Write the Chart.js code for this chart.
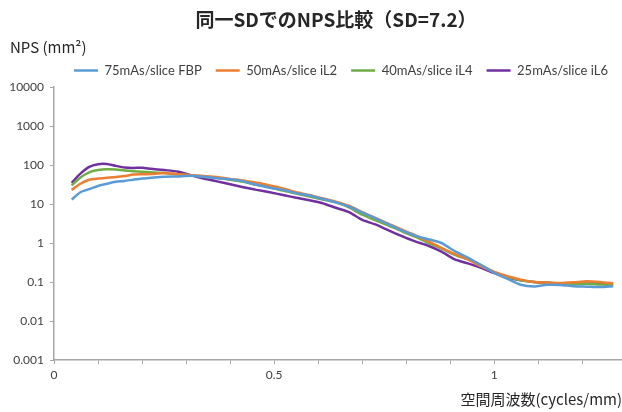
<!DOCTYPE html>
<html>
<head>
<meta charset="utf-8">
<script src="https://cdn.jsdelivr.net/npm/chart.js@4"></script>
<style>
  html, body { margin: 0; padding: 0; background: #fff; }
  #wrap { width: 622px; height: 412px; position: relative; }
</style>
</head>
<body>
<div id="wrap"><canvas id="myChart"></canvas></div>
<script>

    // spatial frequency (cycles/mm)
    const freq = [0.04, 0.06, 0.08, 0.10, 0.12, 0.14, 0.16, 0.18, 0.20, 0.22,
        0.25, 0.28, 0.31, 0.34, 0.37, 0.40, 0.43, 0.46, 0.49, 0.52,
        0.55, 0.58, 0.61, 0.64, 0.67, 0.70, 0.73, 0.76, 0.79, 0.82,
        0.85, 0.88, 0.91, 0.94, 0.97, 1.00, 1.03, 1.06, 1.09, 1.12,
        1.15, 1.18, 1.21, 1.24, 1.27];

    const fbp75 = [13, 20, 24, 29, 33, 37, 39, 42, 45, 47,
        50, 51, 53, 50, 46, 43, 38, 31, 26, 23,
        19, 16.5, 13.5, 11, 8.5, 6.0, 4.3, 3.0, 2.1, 1.55,
        1.25, 1.0, 0.62, 0.42, 0.27, 0.17, 0.12, 0.085, 0.077, 0.085,
        0.084, 0.078, 0.076, 0.074, 0.078];

    const il2_50 = [23, 33, 42, 45, 47, 49, 52, 57, 58, 59,
        62, 58, 55, 52, 49, 44, 40, 35, 30, 25,
        20, 17, 14, 11.5, 9, 6.2, 4.4, 3.1, 2.2, 1.6,
        1.1, 0.75, 0.52, 0.38, 0.25, 0.18, 0.14, 0.115, 0.1, 0.097,
        0.094, 0.098, 0.105, 0.1, 0.092];

    const il4_40 = [30, 48, 65, 74, 78, 77, 72, 69, 67, 65,
        62, 58, 55, 50, 47, 42, 37, 31, 27, 22,
        18.5, 15.5, 13, 11, 8.2, 5.3, 3.8, 2.8, 2.0, 1.45,
        1.0, 0.72, 0.5, 0.38, 0.27, 0.18, 0.135, 0.11, 0.1, 0.096,
        0.092, 0.088, 0.09, 0.086, 0.083];

    const il6_25 = [35, 60, 90, 105, 106, 95, 86, 84, 85, 80,
        74, 68, 55, 45, 38, 32, 27, 23, 20, 17,
        14.5, 12.5, 10.5, 8, 6.2, 3.9, 3.0, 2.1, 1.5, 1.1,
        0.85, 0.6, 0.38, 0.3, 0.23, 0.17, 0.13, 0.11, 0.1, 0.095,
        0.092, 0.09, 0.09, 0.092, 0.09];

    const seriesNames = ['75mAs/slice FBP', '50mAs/slice iL2', '40mAs/slice iL4', '25mAs/slice iL6'];
    const seriesColors = ['#5b9bd5', '#ed7d31', '#70ad47', '#7030a0'];
    const yTicks = [0.001, 0.01, 0.1, 1, 10, 100, 1000, 10000];
    const xLabels = [0, 0.5, 1];

    const font = "Lato, 'Noto Sans CJK JP', sans-serif";
    const jpFont = "'Noto Sans CJK JP', sans-serif";
    const textColor = '#404040';
    const axisColor = '#a6a6a6';

    const allSeries = [fbp75, il2_50, il4_40, il6_25];
    const datasets = allSeries.map((vals, i) => ({
        label: seriesNames[i],
        data: freq.map((f, j) => ({ x: f, y: vals[j] })),
        borderColor: seriesColors[i],
        backgroundColor: seriesColors[i],
        borderWidth: 2.5,
        pointRadius: 0,
        tension: 0.2,
        fill: false
    }));

    // title and "NPS (mm²)" label, placed like the original
    const headerText = {
        id: 'headerText',
        afterDraw(chart) {
            const c = chart.ctx;
            c.save();
            c.textBaseline = 'middle';
            c.fillStyle = '#262626';
            c.textAlign = 'center';
            c.font = 'bold 19px ' + jpFont;
            c.fillText('同一SDでのNPS比較（SD=7.2）', 336, 20);
            c.textAlign = 'left';
            c.font = '15px ' + jpFont;
            c.fillText('NPS (mm\u00b2)', 10, 47);
            c.restore();
        }
    };

    const config = {
        type: 'line',
        data: { datasets: datasets },
        options: {
            responsive: true,
            maintainAspectRatio: false,
            animation: false,
            layout: { padding: { left: 0, right: 0, top: 50, bottom: 0 } },
            plugins: {
                legend: {
                    position: 'top',
                    align: 'end',
                    labels: {
                        usePointStyle: true,
                        pointStyle: 'line',
                        pointStyleWidth: 24,
                        boxHeight: 3,
                        color: textColor,
                        padding: 14,
                        font: { family: font, size: 13 }
                    }
                },
                title: { display: false },
                tooltip: { enabled: false }
            },
            scales: {
                x: {
                    type: 'linear',
                    min: 0,
                    max: 1.29,
                    afterFit: s => { s.height = 52; },
                    border: { color: axisColor, width: 1.5 },
                    grid: { display: true, drawOnChartArea: false, tickLength: 4, color: axisColor },
                    ticks: {
                        stepSize: 0.1,
                        includeBounds: false,
                        autoSkip: false,
                        maxRotation: 0,
                        color: textColor,
                        padding: 4,
                        font: { family: font, size: 12 },
                        callback: v => {
                            const r = Math.round(v * 10) / 10;
                            return xLabels.includes(r) ? String(r) : '';
                        }
                    },
                    title: {
                        display: true,
                        align: 'end',
                        text: '空間周波数(cycles/mm)',
                        color: '#262626',
                        padding: { top: 3 },
                        font: { family: jpFont, size: 15 }
                    }
                },
                y: {
                    type: 'logarithmic',
                    min: 0.001,
                    max: 10000,
                    afterFit: s => { s.width = 54; },
                    afterBuildTicks: s => { s.ticks = yTicks.map(v => ({ value: v })); },
                    border: { color: axisColor, width: 1.5 },
                    grid: { display: true, drawOnChartArea: false, tickLength: 4, color: axisColor },
                    ticks: {
                        color: textColor,
                        padding: 6,
                        font: { family: font, size: 12 },
                        callback: v => String(v)
                    }
                }
            }
        },
        plugins: [headerText]
    };

    const ctx = document.getElementById('myChart');

    new Chart(ctx, config);
</script>
</body>
</html>
